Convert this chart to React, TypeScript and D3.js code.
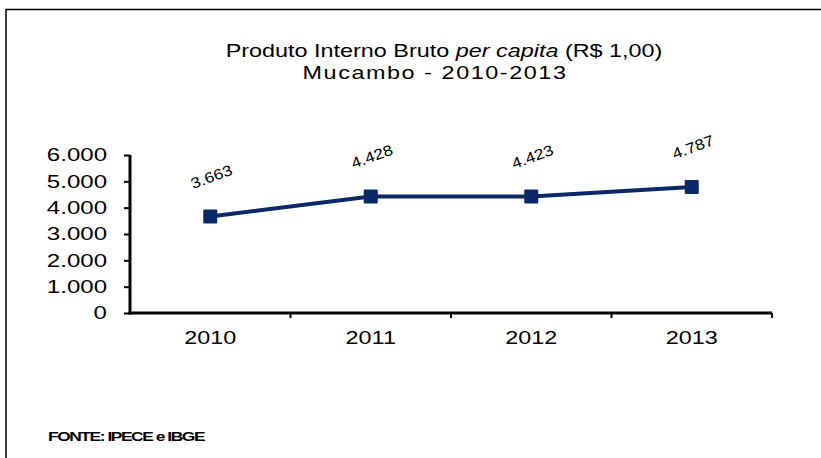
import {useEffect, useRef} from "react";
import * as d3 from "d3";

const years = ["2010", "2011", "2012", "2013"];
const pibPerCapita = [3663, 4428, 4423, 4787];
const yTicks = [0, 1000, 2000, 3000, 4000, 5000, 6000];

const navy = "#0b2869";
const font = "Liberation Sans, Arial, sans-serif";
const sx = 1.3; // the source text is drawn stretched horizontally
const fmt = (v: number) => d3.format(",")(v).replace(/,/g, ".");

export default function App() {
    const ref = useRef<SVGSVGElement>(null);

    useEffect(() => {
        const svg = d3.select(ref.current);
        svg.selectAll("*").remove();

        const width = 821, height = 458;
        const margin = {top: 155, right: 49, bottom: 145, left: 130};

        // outer frame: only top and left edges show
        svg.append("path")
            .attr("d", `M6,${height}V9.5H${width}`)
            .attr("fill", "none")
            .attr("stroke", "#000")
            .attr("stroke-width", 1.5);

        const title = svg.append("text")
            .attr("transform", `translate(444,0) scale(${sx},1)`)
            .attr("text-anchor", "middle")
            .attr("font-family", font)
            .attr("font-size", 18)
            .attr("fill", "#000");
        const l1 = title.append("tspan").attr("x", 0).attr("y", 57);
        l1.append("tspan").text("Produto Interno Bruto ");
        l1.append("tspan").attr("font-style", "italic").text("per capita");
        l1.append("tspan").text(" (R$  1,00)");
        title.append("tspan")
            .attr("x", -9 / sx).attr("y", 79)
            .attr("letter-spacing", 1.2)
            .text("Mucambo  - 2010-2013");

        const x = d3.scaleBand()
            .domain(years)
            .range([margin.left, width - margin.right]);

        const y = d3.scaleLinear()
            .domain([0, 6000])
            .range([height - margin.bottom, margin.top]);

        const yAxis = svg.append("g")
            .attr("transform", `translate(${margin.left},0)`)
            .call(d3.axisLeft(y).tickValues(yTicks).tickSize(6).tickFormat((d) => fmt(+d)));
        yAxis.select(".domain").attr("stroke-width", 3).attr("d", `M0,${y(6000)}V${y(0) + 1.5}`);
        yAxis.selectAll(".tick line").attr("stroke-width", 2);
        yAxis.selectAll(".tick text")
            .attr("x", -23 / sx)
            .attr("transform", `scale(${sx},1)`)
            .attr("font-family", font)
            .attr("font-size", 18.5)
            .attr("fill", "#000");

        const bounds = [...years.map((d) => x(d) as number), width - margin.right];
        const xg = svg.append("g");
        xg.append("line")
            .attr("x1", margin.left - 1.5).attr("x2", width - margin.right)
            .attr("y1", y(0)).attr("y2", y(0))
            .attr("stroke", "#000").attr("stroke-width", 3);
        xg.selectAll("line.tk")
            .data(bounds.slice(1))
            .enter()
            .append("line")
            .attr("class", "tk")
            .attr("x1", (d) => d).attr("x2", (d) => d)
            .attr("y1", y(0)).attr("y2", y(0) + 5)
            .attr("stroke", "#000").attr("stroke-width", 2);
        xg.selectAll("text")
            .data(years)
            .enter()
            .append("text")
            .attr("transform", (d) => `translate(${(x(d) as number) + x.bandwidth() / 2},${y(0) + 31}) scale(${sx},1)`)
            .attr("text-anchor", "middle")
            .attr("font-family", font)
            .attr("font-size", 18)
            .attr("fill", "#000")
            .text((d) => d);

        const pts = years.map((d, i) => ({year: d, value: pibPerCapita[i]}));
        const cx = (d: { year: string }) => (x(d.year) as number) + x.bandwidth() / 2;

        svg.append("path")
            .datum(pts)
            .attr("fill", "none")
            .attr("stroke", navy)
            .attr("stroke-width", 4)
            .attr("d", d3.line<{ year: string, value: number }>().x(cx).y((d) => y(d.value)));

        svg.selectAll("rect.pt")
            .data(pts)
            .enter()
            .append("rect")
            .attr("class", "pt")
            .attr("x", (d) => cx(d) - 7)
            .attr("y", (d) => y(d.value) - 7)
            .attr("width", 14)
            .attr("height", 14)
            .attr("rx", 1)
            .attr("fill", navy);

        svg.selectAll("text.lbl")
            .data(pts)
            .enter()
            .append("text")
            .attr("class", "lbl")
            .attr("transform", (d) => `translate(${cx(d) + 3},${y(d.value) - 35}) rotate(-20) scale(1.15,1)`)
            .attr("text-anchor", "middle")
            .attr("font-family", font)
            .attr("font-size", 15)
            .attr("fill", "#000")
            .text((d) => fmt(d.value));

        svg.append("text")
            .attr("transform", `translate(48,441) scale(1.45,1)`)
            .attr("font-family", font)
            .attr("font-size", 12)
            .attr("font-weight", "bold")
            .attr("letter-spacing", -1)
            .attr("fill", "#000")
            .text("FONTE: IPECE e IBGE");
    }, []);

    return <svg ref={ref} width={821} height={458}
                style={{position: "absolute", left: 0, top: 0, background: "#fff"}}></svg>;
}
